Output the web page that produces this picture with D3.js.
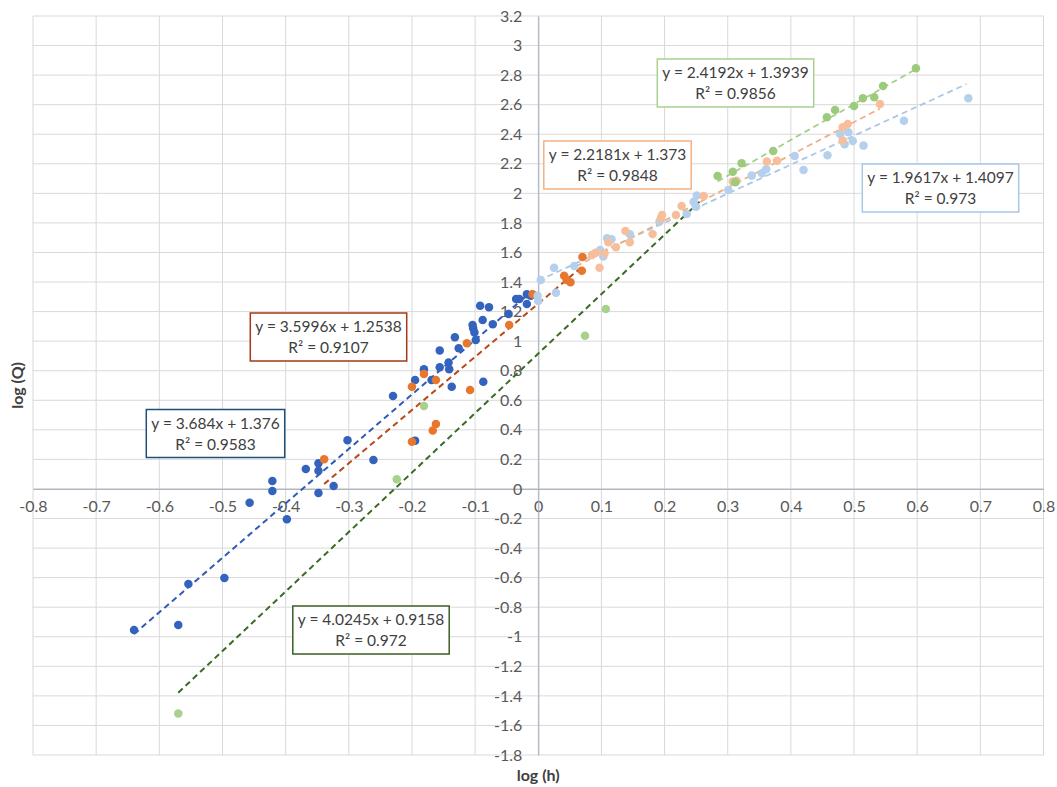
<!DOCTYPE html>
<html>
<head>
<meta charset="utf-8">
<script src="https://cdn.jsdelivr.net/npm/d3@7"></script>
<style>
  html, body { margin: 0; padding: 0; background: #fff; }
  svg { display: block; font-family: Lato, "Open Sans", sans-serif; }
</style>
</head>
<body>
<div id="chart"></div>
<script>
// ---- data ----
const xTicks = [-0.8, -0.7, -0.6, -0.5, -0.4, -0.3, -0.2, -0.1, 0, 0.1, 0.2, 0.3, 0.4, 0.5, 0.6, 0.7, 0.8];
const yTicks = [-1.8, -1.6, -1.4, -1.2, -1, -0.8, -0.6, -0.4, -0.2, 0, 0.2, 0.4, 0.6, 0.8, 1, 1.2, 1.4, 1.6, 1.8, 2, 2.2, 2.4, 2.6, 2.8, 3, 3.2];

const darkBluePts = [
  [-0.640,-0.954],[-0.570,-0.920],[-0.554,-0.643],[-0.497,-0.602],[-0.457,-0.093],[-0.421,0.054],
  [-0.421,-0.014],[-0.398,-0.205],[-0.368,0.135],[-0.348,0.174],[-0.348,0.124],[-0.348,-0.027],
  [-0.324,0.020],[-0.302,0.329],[-0.261,0.196],[-0.230,0.629],[-0.195,0.327],[-0.195,0.737],
  [-0.181,0.810],[-0.169,0.737],[-0.156,0.936],[-0.156,0.823],[-0.142,0.855],[-0.141,0.810],
  [-0.137,0.692],[-0.132,1.026],[-0.126,0.952],[-0.104,1.110],[-0.103,1.087],[-0.101,1.058],
  [-0.099,1.008],[-0.092,1.240],[-0.088,1.143],[-0.087,0.726],[-0.078,1.229],[-0.072,1.114],
  [-0.047,1.184],[-0.035,1.285],[-0.030,1.285],[-0.018,1.252],[-0.018,1.317],[-0.012,1.308]
];
const orangePts = [
  [-0.339,0.201],[-0.200,0.320],[-0.200,0.692],[-0.181,0.778],[-0.162,0.737],[-0.167,0.395],
  [-0.162,0.440],[-0.113,0.986],[-0.108,0.670],[-0.046,1.110],[-0.009,1.317],[0.041,1.443],
  [0.045,1.414],[0.051,1.398],[0.070,1.570],[0.069,1.477]
];
const lightGreenPts = [
  [-0.570,-1.520],[-0.224,0.066],[-0.181,0.562],[0.074,1.037],[0.107,1.218]
];
const lightBluePts = [
  [0.004,1.414],[-0.001,1.308],[0.000,1.272],[0.025,1.497],[0.028,1.328],[0.057,1.509],
  [0.098,1.617],[0.103,1.572],[0.109,1.696],[0.116,1.689],[0.145,1.723],[0.192,1.809],
  [0.235,1.861],[0.246,1.944],[0.251,1.985],[0.250,1.910],[0.301,2.023],[0.338,2.120],
  [0.354,2.136],[0.361,2.163],[0.406,2.253],[0.420,2.158],[0.458,2.258],[0.478,2.402],
  [0.485,2.332],[0.491,2.413],[0.498,2.355],[0.515,2.323],[0.579,2.492],[0.681,2.643]
];
const lightOrangePts = [
  [0.085,1.583],[0.091,1.599],[0.097,1.497],[0.105,1.595],[0.111,1.669],[0.123,1.635],
  [0.138,1.746],[0.145,1.669],[0.181,1.725],[0.196,1.854],[0.194,1.830],[0.218,1.854],
  [0.227,1.915],[0.262,1.982],[0.308,2.080],[0.314,2.085],[0.362,2.215],[0.378,2.221],
  [0.482,2.447],[0.490,2.470],[0.482,2.357],[0.541,2.605]
];
const greenPts = [
  [0.284,2.118],[0.308,2.147],[0.312,2.075],[0.322,2.204],[0.372,2.287],[0.457,2.515],
  [0.470,2.564],[0.500,2.591],[0.514,2.643],[0.532,2.650],[0.546,2.727],[0.598,2.846]
];

// trendlines, same order as seriesPts below
const trendSlopes     = [3.684, 3.5996, 4.0245, 1.9617, 2.2181, 2.4192];
const trendIntercepts = [1.376, 1.2538, 0.9158, 1.4097, 1.373, 1.3939];
const trendFrom       = [-0.640, -0.339, -0.570, 0.000, 0.060, 0.284];
const trendTo         = [-0.005, 0.070, 0.261, 0.678, 0.541, 0.598];
const eqLabels = ['y = 3.684x + 1.376', 'y = 3.5996x + 1.2538', 'y = 4.0245x + 0.9158',
                  'y = 1.9617x + 1.4097', 'y = 2.2181x + 1.373', 'y = 2.4192x + 1.3939'];
const r2Labels = ['R² = 0.9583', 'R² = 0.9107', 'R² = 0.972', 'R² = 0.973', 'R² = 0.9848', 'R² = 0.9856'];

const seriesPts = [darkBluePts, orangePts, lightGreenPts, lightBluePts, lightOrangePts, greenPts];

// ---- styles / layout ----
const dotColors   = ['#3463BD', '#E8772E', '#A9D18E', '#B4D0EC', '#F6BE9A', '#9CCB7E'];
const trendColors = ['#2F5BB7', '#B8491A', '#3B6B23', '#A7C7E7', '#F1AE82', '#A3CF88'];
const trendWidths = [2, 2, 2, 1.75, 1.75, 1.75];
const boxBorders  = ['#1F4E79', '#A33A12', '#3B5E23', '#A7C7E7', '#F4B183', '#A9D18E'];
const boxCenters  = [[215.5, 433.5], [328.5, 337], [371, 630], [940.5, 188], [617.5, 165], [735.5, 83]];

const W = 1057, H = 787;
const svg = d3.select('#chart').append('svg').attr('width', W).attr('height', H);
svg.append('rect').attr('width', W).attr('height', H).attr('fill', '#fff');

const x = d3.scaleLinear().domain([-0.8, 0.8]).range([33, 1043.5]);
const y = d3.scaleLinear().domain([-1.8, 3.2]).range([755, 16]);

const fmt = d => d === 0 ? '0' : String(+d.toFixed(1));

// gridlines
const grid = svg.append('g').attr('class', 'grid');
grid.selectAll('line.v').data(xTicks).enter().append('line')
  .attr('x1', d => x(d)).attr('x2', d => x(d))
  .attr('y1', y(-1.8)).attr('y2', y(3.2))
  .attr('stroke', '#D9D9D9').attr('stroke-width', 1);
grid.selectAll('line.h').data(yTicks).enter().append('line')
  .attr('x1', x(-0.8)).attr('x2', x(0.8))
  .attr('y1', d => y(d)).attr('y2', d => y(d))
  .attr('stroke', '#D9D9D9').attr('stroke-width', 1);

// axes crossing at 0
const xAxisG = svg.append('g')
  .attr('transform', `translate(0,${y(0)})`)
  .call(d3.axisBottom(x).tickValues(xTicks).tickSize(0).tickPadding(12).tickFormat(fmt));
const yAxisG = svg.append('g')
  .attr('transform', `translate(${x(0)},0)`)
  .call(d3.axisLeft(y).tickValues(yTicks).tickSize(0).tickPadding(16).tickFormat(fmt));

[xAxisG, yAxisG].forEach(a => {
  a.select('.domain').attr('stroke', '#ADB5C0').attr('stroke-width', 1.2);
  a.selectAll('text')
    .attr('fill', '#595959')
    .style('font-size', '16px')
    .style('font-family', 'Lato, "Open Sans", sans-serif');
});

// axis titles
svg.append('text')
  .attr('x', x(0)).attr('y', 781)
  .attr('text-anchor', 'middle')
  .attr('fill', '#404040')
  .style('font-size', '16px').style('font-weight', 'bold')
  .text('log (h)');
svg.append('text')
  .attr('transform', `translate(23,${(y(3.2) + y(-1.8)) / 2}) rotate(-90)`)
  .attr('text-anchor', 'middle')
  .attr('fill', '#404040')
  .style('font-size', '16px').style('font-weight', 'bold')
  .text('log (Q)');

// trendlines
const line = d3.line().x(d => x(d[0])).y(d => y(d[1]));
const trends = seriesPts.map((_, i) => ({
  i,
  pts: [trendFrom[i], trendTo[i]].map(v => [v, trendSlopes[i] * v + trendIntercepts[i]])
}));
svg.append('g').selectAll('path').data(trends).enter().append('path')
  .attr('d', d => line(d.pts))
  .attr('fill', 'none')
  .attr('stroke', d => trendColors[d.i])
  .attr('stroke-width', d => trendWidths[d.i])
  .attr('stroke-dasharray', '6,4');

// markers
const dotsG = svg.append('g');
seriesPts.forEach((pts, i) => {
  dotsG.append('g').selectAll('circle').data(pts).enter().append('circle')
    .attr('cx', d => x(d[0]))
    .attr('cy', d => y(d[1]))
    .attr('r', 4.25)
    .attr('fill', dotColors[i]);
});

// equation boxes
const labG = svg.append('g');
seriesPts.forEach((_, i) => {
  const [cx, cy] = boxCenters[i];
  const g = labG.append('g').attr('transform', `translate(${cx},${cy})`);
  const rect = g.append('rect');
  const t = g.append('text')
    .attr('text-anchor', 'middle')
    .attr('fill', '#404040')
    .style('font-size', '15.5px');
  t.append('tspan').attr('x', 0).attr('y', -5).text(eqLabels[i]);
  t.append('tspan').attr('x', 0).attr('y', 16).text(r2Labels[i]);
  const bb = t.node().getBBox();
  const bw = bb.width + 10, bh = 48;
  rect.attr('x', -bw / 2).attr('y', -bh / 2)
    .attr('width', bw).attr('height', bh)
    .attr('fill', '#fff')
    .attr('stroke', boxBorders[i])
    .attr('stroke-width', 1.5);
});
</script>
</body>
</html>
